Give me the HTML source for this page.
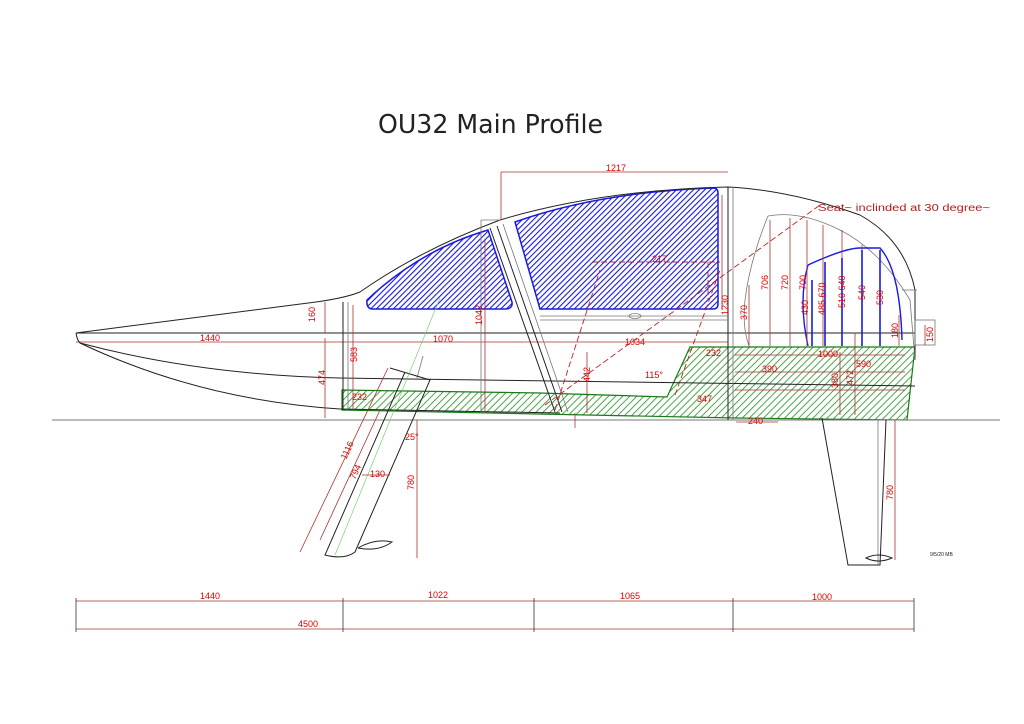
<!DOCTYPE html>
<html><head><meta charset="utf-8"><style>
body{margin:0;background:#fff}
svg{display:block}
text{font-family:"Liberation Sans",sans-serif}
.r{fill:#d00;font-size:9px}
.dim{stroke:#a33;stroke-width:0.8;fill:none}
.k{stroke:#222;stroke-width:1;fill:none}
.g{stroke:#777;stroke-width:0.8;fill:none}
</style></head><body>
<svg width="1024" height="724" viewBox="0 0 1024 724" xmlns="http://www.w3.org/2000/svg">
<defs>
<pattern id="hb" width="4" height="4" patternUnits="userSpaceOnUse" patternTransform="rotate(45)">
<rect width="4" height="4" fill="#fff"/><line x1="0" y1="0" x2="0" y2="4" stroke="#1a1ae0" stroke-width="2.2"/></pattern>
<pattern id="hg" width="5" height="5" patternUnits="userSpaceOnUse" patternTransform="rotate(45)">
<rect width="5" height="5" fill="#fff"/><line x1="0" y1="0" x2="0" y2="5" stroke="#3a9a3a" stroke-width="1.8"/></pattern>
</defs>
<rect width="1024" height="724" fill="#fff"/>
<text x="378" y="133" font-size="26" fill="#222" textLength="225" lengthAdjust="spacingAndGlyphs" style="font-family:'DejaVu Sans',sans-serif">OU32 Main Profile</text>

<path d="M342,390 L540,393 L667,397 L690,347 L915,347 L907,420 L736,418 L342,410 Z" fill="url(#hg)" stroke="#1a7a1a" stroke-width="1.2"/>

<path d="M367,300 Q420,250 488,230 L512,302 Q513,309 505,309 L372,309 Q366,308 367,300 Z" fill="url(#hb)" stroke="#1a1ae0" stroke-width="1.5"/>
<path d="M515,222 Q600,192 713,188 Q718,188 718,193 L718,304 Q718,309 713,309 L540,309 Z" fill="url(#hb)" stroke="#1a1ae0" stroke-width="1.5"/>

<line x1="52" y1="420" x2="1000" y2="420" stroke="#777" stroke-width="1"/>
<line x1="76" y1="333" x2="915" y2="333" class="k"/>
<line x1="76" y1="342" x2="728" y2="342" class="dim"/>

<path d="M76,333 L316,302 Q345,298 360,292 Q420,250 500,220 Q600,190 728,187 Q790,190 860,215 Q905,240 915,290 L915,360" class="k"/>
<path d="M76,333 Q77,340 80,343 Q200,375 340,378 L915,386" class="k"/>
<path d="M80,343 Q200,400 340,409" class="k"/>
<line x1="340" y1="409" x2="560" y2="413" class="k"/>
<line x1="343" y1="302" x2="343" y2="410" class="k"/>
<line x1="348" y1="302" x2="348" y2="410" class="g"/>
<line x1="728" y1="187" x2="728" y2="420" class="k"/>
<line x1="733" y1="187" x2="733" y2="420" class="g"/>
<line x1="540" y1="316" x2="728" y2="316" class="g"/>
<line x1="540" y1="320" x2="728" y2="320" class="g"/>
<ellipse cx="635" cy="316" rx="6" ry="2.5" class="g"/>
<line x1="490" y1="228" x2="555" y2="412" class="k"/>
<line x1="497" y1="226" x2="562" y2="412" class="k"/>
<line x1="503" y1="224" x2="568" y2="412" class="g"/>
<line x1="481" y1="220" x2="481" y2="412" class="g"/>
<line x1="481" y1="220" x2="500" y2="220" class="g"/>

<path d="M768,216 Q800,210 840,230 Q880,250 910,300 L915,360" class="g"/>
<path d="M768,216 Q750,260 745,300 Q742,330 750,348" class="g"/>
<path d="M808,265 Q845,248 860,248 L880,248 Q900,270 902,340 M808,265 Q798,300 808,346" stroke="#1a1ae0" stroke-width="1.4" fill="none"/>
<g class="dim">
<line x1="749" y1="285" x2="749" y2="346"/><line x1="770" y1="220" x2="770" y2="346"/><line x1="790" y1="218" x2="790" y2="346"/>
<line x1="807" y1="220" x2="807" y2="346"/><line x1="823" y1="225" x2="823" y2="346"/><line x1="842" y1="230" x2="842" y2="346"/>
<line x1="862" y1="245" x2="862" y2="346"/><line x1="880" y1="250" x2="880" y2="346"/><line x1="899" y1="315" x2="899" y2="346"/>
<line x1="855" y1="333" x2="855" y2="415"/><line x1="840" y1="352" x2="840" y2="415"/>
</g>
<g stroke="#1a1ae0" stroke-width="1.6"><line x1="812" y1="280" x2="812" y2="346"/><line x1="825" y1="262" x2="825" y2="346"/><line x1="842" y1="258" x2="842" y2="346"/><line x1="862" y1="250" x2="862" y2="346"/><line x1="880" y1="250" x2="880" y2="346"/></g>
<line x1="902" y1="290" x2="917" y2="290" class="g"/>
<rect x="915" y="320" width="20" height="25" class="g"/>

<path d="M822,418 L848,565 L880,565 L886,420" class="k" stroke-width="0.9"/>
<line x1="878" y1="420" x2="878" y2="565" class="g"/>
<path d="M866,558 Q878,552 892,558 Q878,564 866,558 Z" class="k"/>
<line x1="895" y1="420" x2="895" y2="560" class="dim"/>

<path d="M390,368 L430,380 L355,552 Q345,560 325,555 L405,372" class="k"/>
<line x1="423" y1="356" x2="417" y2="378" class="k" stroke-width="3" stroke-opacity="0.5"/>
<path d="M358,548 Q375,538 392,542 Q378,552 358,548" class="k"/>
<line x1="335" y1="555" x2="440" y2="298" stroke="#6c6" stroke-width="0.6"/>
<line x1="300" y1="552" x2="388" y2="368" class="dim"/>
<line x1="320" y1="540" x2="380" y2="410" class="dim"/>
<line x1="417" y1="420" x2="417" y2="558" class="dim"/>
<line x1="362" y1="475" x2="390" y2="475" class="dim"/>

<g stroke="#b22" stroke-width="0.9" fill="none" stroke-dasharray="6,3">
<line x1="545" y1="405" x2="820" y2="205"/>
<line x1="555" y1="410" x2="600" y2="270"/>
<line x1="592" y1="262" x2="720" y2="262"/>
<line x1="708" y1="262" x2="708" y2="300"/>
<line x1="675" y1="395" x2="720" y2="270"/>
</g>

<g class="dim">
<line x1="501" y1="172" x2="728" y2="172"/><line x1="501" y1="172" x2="501" y2="220"/>
<line x1="325" y1="302" x2="325" y2="333"/><line x1="325" y1="338" x2="325" y2="418"/>
<line x1="353" y1="305" x2="353" y2="410"/><line x1="485" y1="240" x2="485" y2="412"/>
<line x1="587" y1="352" x2="587" y2="413"/><line x1="575" y1="413" x2="575" y2="428"/>
<line x1="735" y1="355" x2="905" y2="355"/><line x1="735" y1="372" x2="905" y2="372"/>
<line x1="735" y1="390" x2="905" y2="390"/><line x1="722" y1="195" x2="722" y2="310"/>
<line x1="736" y1="422" x2="778" y2="422"/><line x1="925" y1="325" x2="925" y2="345"/>
</g>
<text x="818" y="211" font-size="10" fill="#a22" textLength="172" lengthAdjust="spacingAndGlyphs">Seat~ inclinded at 30 degree~</text>
<text class="r" x="606" y="171">1217</text>
<text class="r" x="200" y="341">1440</text>
<text class="r" x="433" y="342">1070</text>
<text class="r" x="625" y="345">1034</text>
<text class="r" x="352" y="400">232</text>
<text class="r" x="706" y="356">232</text>
<text class="r" x="762" y="372">390</text>
<text class="r" x="818" y="357">1000</text>
<text class="r" x="856" y="367">590</text>
<text class="r" x="697" y="402">347</text>
<text class="r" x="652" y="262">217</text>
<text class="r" x="370" y="477">130</text>
<text class="r" x="748" y="424">240</text>
<text class="r" x="405" y="440">25°</text>
<text class="r" x="645" y="378">115°</text>
<g class="r">
<text transform="translate(315,322) rotate(-90)">160</text>
<text transform="translate(325,385) rotate(-90)">474</text>
<text transform="translate(357,362) rotate(-90)">583</text>
<text transform="translate(482,325) rotate(-90)">1042</text>
<text transform="translate(590,382) rotate(-90)">442</text>
<text transform="translate(728,315) rotate(-90)">1230</text>
<text transform="translate(747,320) rotate(-90)">370</text>
<text transform="translate(768,290) rotate(-90)">706</text>
<text transform="translate(788,290) rotate(-90)">720</text>
<text transform="translate(806,290) rotate(-90)">700</text>
<text transform="translate(808,315) rotate(-90)">430</text>
<text transform="translate(825,315) rotate(-90)">485 670</text>
<text transform="translate(845,308) rotate(-90)">510 640</text>
<text transform="translate(865,300) rotate(-90)">540</text>
<text transform="translate(883,305) rotate(-90)">530</text>
<text transform="translate(898,338) rotate(-90)">180</text>
<text transform="translate(933,342) rotate(-90)">150</text>
<text transform="translate(838,388) rotate(-90)">380</text>
<text transform="translate(853,385) rotate(-90)">472</text>
<text transform="translate(414,490) rotate(-90)">780</text>
<text transform="translate(893,500) rotate(-90)">780</text>
<text transform="translate(346,460) rotate(-65)">1116</text>
<text transform="translate(355,480) rotate(-65)">794</text>
</g>
<text x="930" y="556" font-size="5" fill="#222">9/5/20 MB</text>

<g class="dim">
<line x1="76" y1="601" x2="914" y2="601"/><line x1="76" y1="629" x2="914" y2="629"/>
</g>
<g stroke="#333" stroke-width="0.8">
<line x1="76" y1="598" x2="76" y2="632"/><line x1="343" y1="598" x2="343" y2="632"/>
<line x1="534" y1="598" x2="534" y2="632"/><line x1="733" y1="598" x2="733" y2="632"/>
<line x1="914" y1="598" x2="914" y2="632"/>
</g>
<text class="r" x="200" y="599">1440</text>
<text class="r" x="428" y="598">1022</text>
<text class="r" x="620" y="599">1065</text>
<text class="r" x="812" y="600">1000</text>
<text class="r" x="298" y="627">4500</text>
</svg>
</body></html>
